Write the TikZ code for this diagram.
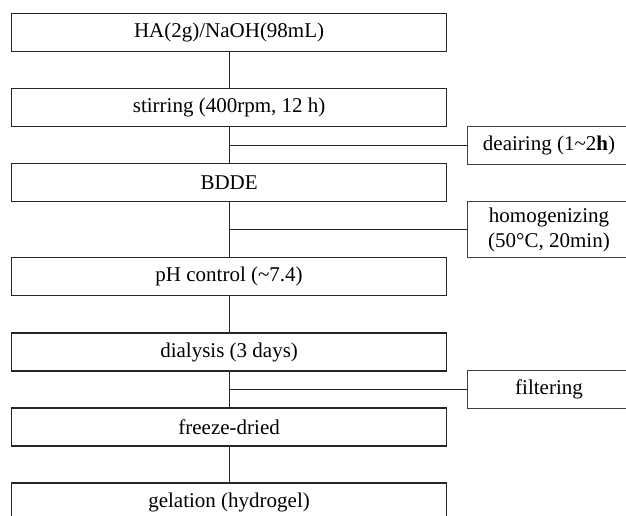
\documentclass[tikz,border=0pt]{standalone}
\usepackage{fontspec}
\setmainfont{Liberation Serif}
\usepackage{tikz}

\begin{document}
\begin{tikzpicture}[x=1pt,y=-1pt,
    font=\fontsize{21}{25}\selectfont,
    stepbox/.style={draw=black!85,line width=1.1pt,minimum width=434.8pt,minimum height=38pt,inner sep=0pt},
    sidebox/.style={minimum width=162pt,minimum height=37.5pt,inner sep=0pt,align=center},
    link/.style={draw=black!85,line width=1pt}]
  \def\mx{229.1}   % centre of the main column
  \def\sx{549}     % centre of the side column

  \useasboundingbox (0,0) rectangle (626,516);
  \clip (0,0) rectangle (626,516);

  % main column
  \foreach \n/\y/\t in {%
      ha/32.5/{HA(2g)/NaOH(98mL)},
      stir/107.7/{stirring (400rpm, 12 h)},
      bdde/182.9/{BDDE},
      ph/276.9/{pH control (\textasciitilde7.4)},
      dial/352/{dialysis (3 days)},
      dry/427/{freeze-dried},
      gel/502/{gelation (hydrogel)}}{
    \node[stepbox] (\n) at (\mx,\y) {\t};
  }

  % side steps (cut off by the right edge)
  \node[sidebox] (deair) at (\sx,145.4) {deairing (1\textasciitilde2\textbf{h})};
  \node[sidebox,minimum height=56pt] (homo) at (\sx,229.7) {homogenizing\\(50°C, 20min)};
  \node[sidebox] (filt) at (\sx,389.5) {filtering};
  \foreach \n in {deair,homo,filt}
    \draw[black!75,line width=1pt] (\n.south west) rectangle ([xshift=40pt]\n.north east);

  % joints on the main line
  \coordinate (j1) at (stir.south |- deair.west);
  \coordinate (j2) at (bdde.south |- homo.west);
  \coordinate (j3) at (dial.south |- filt.west);

  % connectors
  \foreach \a/\b in {ha/stir, stir/bdde, bdde/ph, ph/dial, dial/dry, dry/gel}
    \path[link] (\a.south) -- (\b.north);
  \path[link] (j1) -- (deair.west);
  \path[link] (j2) -- (homo.west);
  \path[link] (j3) -- (filt.west);
\end{tikzpicture}
\end{document}
